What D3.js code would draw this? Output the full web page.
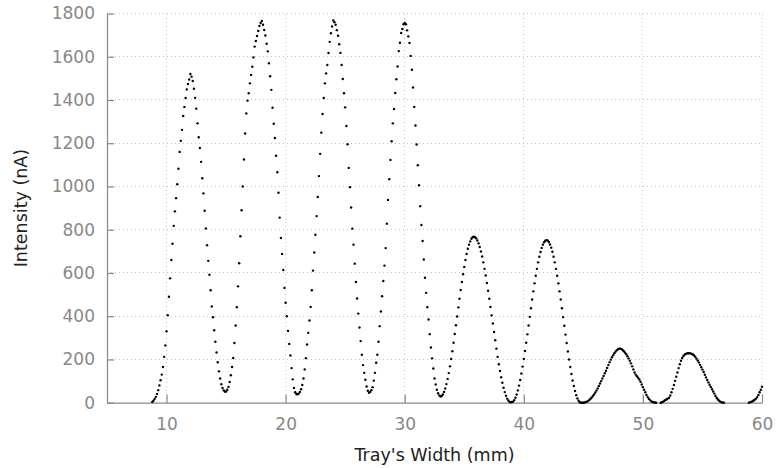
<!DOCTYPE html>
<html>
<head>
<meta charset="utf-8">
<script src="https://cdn.jsdelivr.net/npm/d3@7"></script>
<style>
  html, body { margin: 0; padding: 0; background: #fff; }
  svg { display: block; font-family: "DejaVu Sans", sans-serif; }
  .axis-title { fill: #222; font-size: 17.5px; }
</style>
</head>
<body>
<svg id="chart" width="776" height="468"></svg>
<script>
// Scan sampled every 0.1 mm across the tray; three contiguous runs of readings.
const sampleStep = 0.1;
const runStart = [8.8, 51.5, 58.9];

// Intensity (nA), run 1: 8.8 .. 51.1 mm
const intensityRun1 = [
  3, 9,
  17, 27, 40, 58, 80, 104, 130, 165, 212, 265,
  330, 405, 490, 575, 660, 735, 818, 885, 946, 1010,
  1082, 1160, 1211, 1262, 1326, 1368, 1409, 1449, 1474, 1495,
  1520, 1508, 1488, 1452, 1410, 1360, 1292, 1228, 1178, 1114,
  1038, 968, 888, 806, 728, 656, 592, 520, 445, 395,
  335, 282, 232, 187, 145, 112, 85, 68, 57, 51,
  52, 60, 73, 96, 127, 165, 207, 276, 357, 442,
  538, 645, 770, 890, 1000, 1125, 1245, 1338, 1397, 1431,
  1477, 1516, 1554, 1597, 1647, 1673, 1696, 1719, 1742, 1756,
  1765, 1748, 1724, 1698, 1660, 1625, 1570, 1510, 1447, 1364,
  1290, 1224, 1142, 1066, 971, 856, 762, 688, 614, 531,
  462, 400, 332, 272, 218, 160, 108, 68, 48, 40,
  39, 42, 50, 62, 82, 112, 154, 206, 269, 323,
  380, 443, 520, 611, 695, 777, 863, 951, 1048, 1151,
  1249, 1335, 1409, 1477, 1523, 1562, 1617, 1669, 1709, 1740,
  1768, 1760, 1748, 1723, 1697, 1658, 1618, 1562, 1497, 1431,
  1366, 1280, 1195, 1086, 997, 903, 805, 731, 643, 558,
  482, 412, 348, 285, 222, 174, 138, 106, 75, 55,
  46, 50, 58, 72, 102, 138, 185, 222, 282, 354,
  422, 492, 563, 634, 715, 828, 938, 1034, 1123, 1209,
  1292, 1358, 1432, 1496, 1555, 1626, 1665, 1710, 1728, 1750,
  1756, 1750, 1722, 1694, 1664, 1604, 1540, 1458, 1368, 1282,
  1194, 1098, 1006, 909, 822, 748, 662, 578, 508, 442,
  385, 317, 255, 205, 158, 112, 84, 60, 44, 34,
  29, 31, 38, 50, 66, 86, 110, 137, 168, 202,
  238, 277, 318, 358, 399, 441, 481, 521, 558, 594,
  628, 660, 688, 712, 731, 746, 758, 765, 768, 766,
  760, 750, 737, 720, 699, 676, 649, 619, 588, 554,
  518, 481, 443, 404, 366, 327, 289, 250, 212, 178,
  147, 118, 92, 69, 49, 32, 19, 10, 4, 2,
  3, 5, 12, 23, 38, 57, 79, 105, 135, 167,
  202, 239, 277, 316, 357, 397, 437, 477, 515, 552,
  587, 619, 649, 675, 697, 716, 731, 742, 749, 752,
  750, 743, 732, 717, 698, 675, 649, 619, 587, 552,
  515, 477, 437, 396, 356, 315, 276, 237, 200, 165,
  133, 103, 77, 54, 35, 20, 9, 2, 0, 0,
  0, 1, 3, 5, 8, 13, 18, 24, 31, 38,
  47, 56, 66, 77, 89, 100, 112, 124, 136, 148,
  161, 174, 187, 199, 210, 220, 229, 236, 242, 247,
  250, 250, 248, 244, 238, 231, 224, 215, 205, 194,
  182, 168, 154, 140, 130, 122, 115, 107, 97, 84,
  72, 60, 48, 36, 26, 18, 12, 7, 4, 2,
  1, 0
];

// Intensity (nA), run 2: 51.5 .. 56.8 mm
const intensityRun2 = [
  0, 2, 5, 9, 13,
  16, 19, 23, 33, 48, 64, 82, 101, 120, 140,
  160, 178, 194, 207, 216, 222, 226, 228, 229, 229,
  228, 226, 223, 218, 212, 204, 195, 186, 175, 164,
  153, 142, 129, 117, 105, 94, 83, 73, 62, 52,
  42, 31, 22, 15, 9, 5, 2, 1, 0
];

// Intensity (nA), run 3: 58.9 .. 60.0 mm
const intensityRun3 = [0, 2, 4, 7, 10, 14, 19, 26, 36, 48, 60, 74];

const xTicks = [10, 20, 30, 40, 50, 60];
const yTicks = [0, 200, 400, 600, 800, 1000, 1200, 1400, 1600, 1800];
const xDomain = [5, 60];
const yDomain = [0, 1800];
const xTitle = "Tray's Width (mm)";
const yTitle = "Intensity (nA)";

const runs = [intensityRun1, intensityRun2, intensityRun3];
const points = [];
runs.forEach((vals, r) => {
  vals.forEach((v, i) => {
    points.push({ x: +(runStart[r] + i * sampleStep).toFixed(1), y: v });
  });
});

const margin = { left: 107, right: 14, top: 13.5, bottom: 65.3 };
const W = 776, H = 468;
const svg = d3.select("#chart");

const x = d3.scaleLinear().domain(xDomain).range([margin.left, W - margin.right]);
const y = d3.scaleLinear().domain(yDomain).range([H - margin.bottom, margin.top]);

// dotted grid
const grid = svg.append("g").attr("class", "grid");
grid.selectAll("line.h").data(yTicks.filter(d => d > 0)).join("line")
  .attr("x1", x(xDomain[0])).attr("x2", x(xDomain[1]))
  .attr("y1", d => y(d)).attr("y2", d => y(d));
grid.selectAll("line.v").data(xTicks).join("line")
  .attr("x1", d => x(d)).attr("x2", d => x(d))
  .attr("y1", y(yDomain[0])).attr("y2", y(yDomain[1]));
grid.selectAll("line")
  .attr("stroke", "#c4c4c4").attr("stroke-width", 1)
  .attr("stroke-dasharray", "1,3").attr("shape-rendering", "crispEdges");

// axes with inward ticks
const fmt = d3.format("d");
const xAxis = d3.axisBottom(x).tickValues(xTicks).tickFormat(fmt)
  .tickSize(-8).tickSizeOuter(0).tickPadding(15);
const yAxis = d3.axisLeft(y).tickValues(yTicks).tickFormat(fmt)
  .tickSize(-7).tickSizeOuter(0).tickPadding(12);

const gx = svg.append("g").attr("transform", `translate(0,${y(0)})`).call(xAxis);
const gy = svg.append("g").attr("transform", `translate(${x(xDomain[0])},0)`).call(yAxis);
[gx, gy].forEach(g => {
  g.select(".domain").attr("stroke", "#888").attr("stroke-width", 1.2);
  g.selectAll(".tick line").attr("stroke", "#888").attr("stroke-width", 1.2);
  g.selectAll("text").attr("font-family", "DejaVu Sans, sans-serif")
    .attr("font-size", 17).attr("fill", "#888");
});

// titles
svg.append("text").attr("class", "axis-title")
  .attr("x", (x(xDomain[0]) + x(xDomain[1])) / 2).attr("y", 461)
  .attr("text-anchor", "middle").text(xTitle);
svg.append("text").attr("class", "axis-title")
  .attr("transform", `translate(27,${(y(yDomain[0]) + y(yDomain[1])) / 2}) rotate(-90)`)
  .attr("text-anchor", "middle").text(yTitle);

// measurement dots
svg.append("g").selectAll("circle").data(points).join("circle")
  .attr("cx", d => x(d.x)).attr("cy", d => y(d.y))
  .attr("r", 1.2).attr("fill", "#000");
</script>
</body>
</html>
